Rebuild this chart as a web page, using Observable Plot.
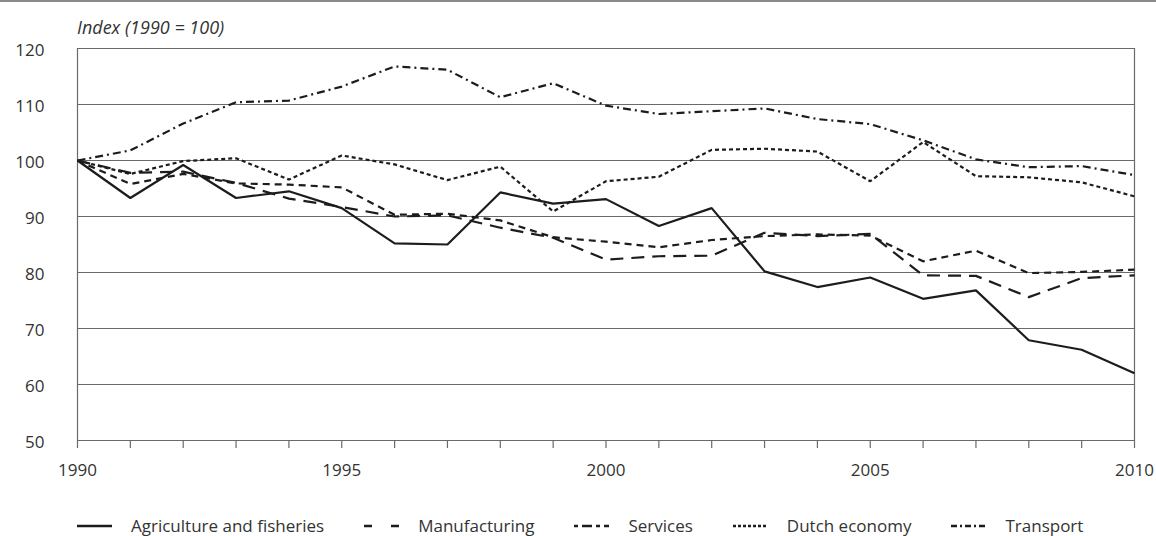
<!DOCTYPE html>
<html>
<head>
<meta charset="utf-8">
<script src="https://cdn.jsdelivr.net/npm/d3@7"></script>
<script src="https://cdn.jsdelivr.net/npm/@observablehq/plot@0.6"></script>
<style>
  html, body { margin: 0; padding: 0; background: #fff; }
  #wrap { position: relative; width: 1156px; height: 536px; font-family: "Open Sans", sans-serif; color: #333; overflow: hidden; }
  #toprule { position: absolute; left: 0; top: 0; width: 1156px; height: 0; border-top: 2px solid #8a8a8a; }
  #title { position: absolute; left: 77px; top: 16px; font-size: 18px; font-style: italic; color: #333; line-height: 22px; }
  #chart { position: absolute; left: 0; top: 30px; }
  #legend { position: absolute; left: 77px; top: 515px; display: flex; align-items: center; gap: 40px; font-size: 17px; line-height: 22px; color: #333; }
  .item { display: flex; align-items: center; gap: 19px; }
  .item svg { display: block; }
</style>
</head>
<body>
<div id="wrap">
  <div id="toprule"></div>
  <div id="title">Index (1990 = 100)</div>
  <div id="chart"></div>
  <div id="legend"></div>
</div>
<script>
const years = [1990, 1991, 1992, 1993, 1994, 1995, 1996, 1997, 1998, 1999, 2000, 2001, 2002, 2003, 2004, 2005, 2006, 2007, 2008, 2009, 2010];
const agriculture   = [100, 93.3, 99.2, 93.3, 94.5, 91.5, 85.2, 85.0, 94.3, 92.3, 93.1, 88.3, 91.5, 80.2, 77.4, 79.1, 75.3, 76.8, 67.9, 66.2, 62.0];
const manufacturing = [100, 97.8, 98.0, 96.0, 93.2, 91.7, 90.0, 90.2, 88.0, 86.2, 82.3, 82.9, 83.0, 87.1, 86.5, 86.9, 79.5, 79.4, 75.6, 79.0, 79.5];
const services      = [100, 95.8, 97.6, 95.9, 95.7, 95.2, 90.3, 90.5, 89.3, 86.3, 85.5, 84.5, 85.8, 86.5, 86.8, 86.6, 82.0, 83.9, 79.9, 80.1, 80.5];
const dutchEconomy  = [100, 97.6, 99.9, 100.4, 96.6, 100.9, 99.3, 96.5, 98.9, 90.9, 96.3, 97.1, 101.9, 102.1, 101.6, 96.3, 103.3, 97.2, 97.0, 96.1, 93.6];
const transport     = [100, 101.8, 106.6, 110.4, 110.7, 113.2, 116.8, 116.2, 111.3, 113.8, 109.8, 108.3, 108.8, 109.3, 107.4, 106.5, 103.6, 100.2, 98.8, 99.0, 97.4];

const seriesNames = ["Agriculture and fisheries", "Manufacturing", "Services", "Dutch economy", "Transport"];
const yTicks = [50, 60, 70, 80, 90, 100, 110, 120];
const xLabelYears = [1990, 1995, 2000, 2005, 2010];

const dashes = [null, "13,8", "7,5", "4,3", "8,4,2,4"];
const legendDashes = [null, "8,19", "4,4,10,4", "3,2", "6,3,2,3"];
const ink = "#1c1c1c";

const rows = years.map((year, i) => ({
  year,
  agriculture: agriculture[i],
  manufacturing: manufacturing[i],
  services: services[i],
  dutchEconomy: dutchEconomy[i],
  transport: transport[i]
}));
const keys = ["agriculture", "manufacturing", "services", "dutchEconomy", "transport"];

const lineMarks = keys.slice().reverse().map(k => {
  const idx = keys.indexOf(k);
  return Plot.line(rows, {
    x: "year", y: k, stroke: ink, strokeWidth: 2.2,
    strokeDasharray: dashes[idx] || undefined,
    strokeLinejoin: "miter", strokeLinecap: "butt"
  });
});

const chart = Plot.plot({
  width: 1156,
  height: 455,
  marginLeft: 77,
  marginRight: 22,
  marginTop: 18,
  marginBottom: 45,
  style: { fontFamily: "Open Sans, sans-serif", fontSize: "17px", color: "#333", background: "transparent", overflow: "visible" },
  x: { domain: [1990, 2010] },
  y: { domain: [50, 120] },
  marks: [
    Plot.ruleY(yTicks, { stroke: "#6a6a6a", strokeWidth: 1.2 }),
    Plot.ruleX([1990, 2010], { y1: 50, y2: 120, stroke: "#6a6a6a", strokeWidth: 1.2 }),
    Plot.axisX(years, { tickSize: 8, tickFormat: () => "", stroke: "#6a6a6a", strokeWidth: 1.2, label: null }),
    Plot.axisX(xLabelYears, { tickSize: 0, tickPadding: 23, tickFormat: d => String(d), fill: "#333", fontSize: 17, label: null }),
    Plot.axisY(yTicks, { tickSize: 0, tickPadding: 33, fill: "#333", fontSize: 17, dy: 2, label: null }),
    ...lineMarks
  ]
});
document.getElementById("chart").appendChild(chart);

// Legend
const legend = document.getElementById("legend");
seriesNames.forEach((name, i) => {
  const item = document.createElement("div");
  item.className = "item";
  const svg = d3.create("svg").attr("width", 35).attr("height", 10);
  svg.append("line").attr("x1", 0).attr("x2", 35).attr("y1", 5).attr("y2", 5)
    .attr("stroke", ink).attr("stroke-width", 2.4)
    .attr("stroke-dasharray", legendDashes[i] || null);
  item.appendChild(svg.node());
  const span = document.createElement("span");
  span.textContent = name;
  item.appendChild(span);
  legend.appendChild(item);
});
</script>
</body>
</html>
